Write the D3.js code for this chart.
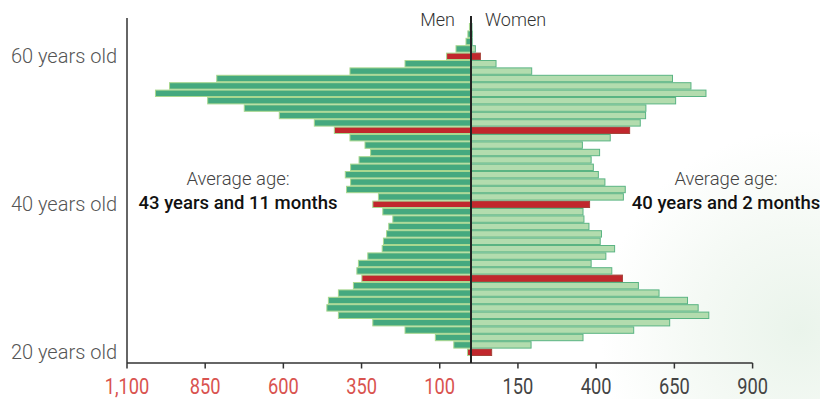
<!DOCTYPE html>
<html>
<head>
<meta charset="utf-8">
<script src="https://cdn.jsdelivr.net/npm/d3@7"></script>
<style>
  html, body { margin: 0; padding: 0; background: #fff; }
  svg { display: block; }
</style>
</head>
<body>
<svg id="chart" width="820" height="399"></svg>
<script>
// ---- data ----
const ages = d3.range(20, 65); // 20..64
const men = [11, 55, 114, 211, 314, 424, 461, 456, 424, 376,
             349, 365, 360, 330, 284, 280, 270, 263, 250, 282,
             314, 296, 398, 385, 402, 385, 358, 321, 339, 387,
             437, 501, 613, 725, 842, 1009, 964, 813, 387, 211,
             78, 48, 16, 10, 5];
const women = [66, 192, 358, 520, 635, 760, 726, 692, 601, 535,
               484, 450, 384, 431, 459, 413, 417, 377, 361, 358,
               379, 487, 493, 428, 407, 391, 384, 411, 356, 445,
               507, 541, 558, 559, 654, 751, 703, 644, 194, 80,
               30, 14, 4, 4, 3];
const highlightAges = [20, 30, 40, 50, 60];
const leftTicks = [1100, 850, 600, 350, 100];
const rightTicks = [150, 400, 650, 900];
const ageLabels = [{age: 60, text: "60 years old"}, {age: 40, text: "40 years old"}, {age: 20, text: "20 years old"}];
const avgMen = ["Average age:", "43 years and 11 months"];
const avgWomen = ["Average age:", "40 years and 2 months"];

// ---- layout ----
const svg = d3.select("#chart");
const cx = 471;
const xL = d3.scaleLinear().domain([0, 1100]).range([cx, 127]);
const xR = d3.scaleLinear().domain([0, 900]).range([cx, 752.6]);
const y = d3.scaleLinear().domain([20, 65]).range([352.3, 19.3]);
const barH = 6.4;
const axisY = 363;

// background soft green glow (bottom-right)
const defs = svg.append("defs");
const rg = defs.append("radialGradient").attr("id", "glow")
  .attr("gradientUnits", "userSpaceOnUse")
  .attr("cx", 800).attr("cy", 330).attr("r", 200);
rg.append("stop").attr("offset", "0").attr("stop-color", "#eaf4eb");
rg.append("stop").attr("offset", "0.5").attr("stop-color", "#f4f9f4");
rg.append("stop").attr("offset", "1").attr("stop-color", "#ffffff");
svg.append("rect").attr("width", 820).attr("height", 399).attr("fill", "url(#glow)");

const rows = ages.map((a, i) => ({age: a, m: men[i], w: women[i], hi: highlightAges.includes(a)}));

// men bars
svg.append("g").selectAll("rect").data(rows).join("rect")
  .attr("x", d => xL(d.m))
  .attr("y", d => y(d.age) - barH / 2)
  .attr("width", d => cx - xL(d.m))
  .attr("height", barH)
  .attr("fill", d => d.hi ? "#c1272d" : "#45a97f")
  .attr("stroke", "#a9d88f")
  .attr("stroke-width", 1);

// women bars
svg.append("g").selectAll("rect").data(rows).join("rect")
  .attr("x", cx)
  .attr("y", d => y(d.age) - barH / 2)
  .attr("width", d => xR(d.w) - cx)
  .attr("height", barH)
  .attr("fill", d => d.hi ? "#c1272d" : "#b3dcae")
  .attr("stroke", d => d.hi ? "#a5443a" : "#5ab483")
  .attr("stroke-width", 1);

// y axis line
svg.append("line").attr("x1", 127).attr("x2", 127).attr("y1", 18).attr("y2", axisY)
  .attr("stroke", "#333").attr("stroke-width", 1.5);

// bottom axis line
svg.append("line").attr("x1", 127).attr("x2", 752.6).attr("y1", axisY).attr("y2", axisY)
  .attr("stroke", "#333").attr("stroke-width", 1.5);

// ticks
const tickData = leftTicks.map(v => ({x: xL(v), v, side: "L"}))
  .concat(rightTicks.map(v => ({x: xR(v), v, side: "R"})));
svg.append("g").selectAll("line").data(tickData).join("line")
  .attr("x1", d => d.x).attr("x2", d => d.x)
  .attr("y1", axisY).attr("y2", axisY + 5.5)
  .attr("stroke", "#333").attr("stroke-width", 1.5);

const fmt = d3.format(",");
svg.append("g").selectAll("text").data(tickData).join("text")
  .attr("transform", d => `translate(${d.x},393.5) scale(0.85,1)`)
  .attr("text-anchor", "middle")
  .attr("font-family", "Roboto, sans-serif")
  .attr("font-weight", 400)
  .attr("font-size", 21.5)
  .attr("fill", d => d.side === "L" ? "#d9534f" : "#444")
  .text(d => fmt(d.v));

// center line
svg.append("line").attr("x1", cx).attr("x2", cx).attr("y1", 16).attr("y2", axisY)
  .attr("stroke", "#222").attr("stroke-width", 2);

// age labels
svg.append("g").selectAll("text").data(ageLabels).join("text")
  .attr("x", 117).attr("y", d => y(d.age) + 6.5)
  .attr("text-anchor", "end")
  .attr("font-family", "Roboto, 'Noto Sans', sans-serif")
  .attr("font-weight", 300)
  .attr("font-size", 20)
  .attr("fill", "#555")
  .text(d => d.text);

// Men / Women labels
svg.append("text").attr("x", 455).attr("y", 26).attr("text-anchor", "end")
  .attr("font-family", "Roboto, sans-serif").attr("font-size", 18).attr("font-weight", 300)
  .attr("fill", "#333").text("Men");
svg.append("text").attr("x", 485).attr("y", 26).attr("text-anchor", "start")
  .attr("font-family", "Roboto, sans-serif").attr("font-size", 18).attr("font-weight", 300)
  .attr("fill", "#333").text("Women");

// average age annotations
function avg(xc, lines) {
  svg.append("text").attr("x", xc).attr("y", 184.5).attr("text-anchor", "middle")
    .attr("font-family", "Roboto, sans-serif").attr("font-size", 18.5).attr("font-weight", 300)
    .attr("fill", "#444").text(lines[0]);
  svg.append("text").attr("x", xc).attr("y", 208.5).attr("text-anchor", "middle")
    .attr("font-family", "Roboto, sans-serif").attr("font-size", 18.5).attr("font-weight", 500)
    .attr("fill", "#111").text(lines[1]);
}
avg(238, avgMen);
avg(726, avgWomen);
</script>
</body>
</html>
